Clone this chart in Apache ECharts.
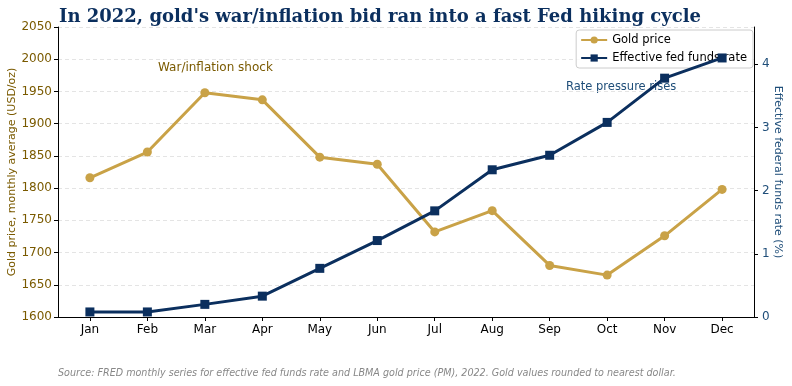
<!DOCTYPE html>
<html>
<head>
<meta charset="utf-8">
<script src="https://cdn.jsdelivr.net/npm/echarts@6/dist/echarts.min.js"></script>
<style>
  html, body { margin: 0; padding: 0; background: #fff; }
  #chart { width: 792px; height: 386px; }
</style>
</head>
<body>
<div id="chart"></div>
<script>
var months = ["Jan", "Feb", "Mar", "Apr", "May", "Jun", "Jul", "Aug", "Sep", "Oct", "Nov", "Dec"];
var goldPrice = [1816, 1856, 1948, 1937, 1848, 1837, 1732, 1765, 1680, 1665, 1726, 1798];
var fedRate = [0.08, 0.08, 0.20, 0.33, 0.77, 1.21, 1.68, 2.33, 2.56, 3.08, 3.78, 4.10];

var goldColor = "#c9a247";
var goldText = "#7a5a00";
var navy = "#0b2f5e";
var navyText = "#1f4e79";

// month index positions for a value x axis (matplotlib-like side margins)
var monthIdx = months.map(function (m, i) { return i; });
var goldData = goldPrice.map(function (v, i) { return [i, v]; });
var fedData = fedRate.map(function (v, i) { return [i, v]; });

var chart = echarts.init(document.getElementById("chart"));
var option = {
  animation: false,
  title: {
    text: "In 2022, gold's war/inflation bid ran into a fast Fed hiking cycle",
    left: 54,
    top: 3,
    textStyle: {
      fontFamily: "DejaVu Serif",
      fontWeight: "bold",
      fontSize: 18,
      color: navy
    }
  },
  legend: {
    right: 39,
    top: 30,
    orient: "vertical",
    itemWidth: 26,
    itemHeight: 9,
    itemGap: 6,
    padding: [4, 6, 4, 4],
    backgroundColor: "rgba(255,255,255,0.85)",
    borderColor: "#cccccc",
    borderWidth: 1,
    borderRadius: 3,
    textStyle: { fontFamily: "DejaVu Sans", fontSize: 11.5, color: "#000" },
    data: ["Gold price", "Effective fed funds rate"]
  },
  grid: { left: 58, right: 38, top: 27, bottom: 69, outerBoundsMode: "none", containLabel: false },
  xAxis: {
    type: "value",
    min: -0.555,
    max: 11.555,
    splitLine: { show: false },
    axisLine: { onZero: false, lineStyle: { color: "#000", width: 1 } },
    axisTick: { length: 4, lineStyle: { color: "#000" }, customValues: monthIdx },
    axisLabel: {
      fontFamily: "DejaVu Sans", fontSize: 12, color: "#000", margin: 7,
      customValues: monthIdx,
      formatter: function (v) { return months[Math.round(v)] || ""; }
    }
  },
  yAxis: [
    {
      type: "value",
      min: 1600,
      max: 2050,
      interval: 50,
      name: "Gold price, monthly average (USD/oz)",
      nameLocation: "middle",
      nameGap: 40,
      nameMoveOverlap: false,
      nameTextStyle: { fontFamily: "DejaVu Sans", fontSize: 11, color: goldText },
      axisLine: { show: true, onZero: false, lineStyle: { color: "#000" } },
      axisTick: { show: true, length: 4, lineStyle: { color: "#000" } },
      axisLabel: {
        fontFamily: "DejaVu Sans", fontSize: 12, color: goldText, margin: 6,
        formatter: function (v) { return String(v); }
      },
      splitLine: { show: true, lineStyle: { color: "#dddddd", type: [4, 3], width: 0.8 } }
    },
    {
      type: "value",
      min: 0,
      max: 4.59,
      interval: 1,
      position: "right",
      name: "Effective federal funds rate (%)",
      nameLocation: "middle",
      nameGap: 18,
      nameMoveOverlap: false,
      nameRotate: -90,
      nameTextStyle: { fontFamily: "DejaVu Sans", fontSize: 11, color: navyText },
      axisLine: { show: true, onZero: false, lineStyle: { color: "#000" } },
      axisTick: { show: true, length: 4, lineStyle: { color: "#000" }, customValues: [0, 1, 2, 3, 4] },
      axisLabel: {
        fontFamily: "DejaVu Sans", fontSize: 12, color: navyText, margin: 8,
        customValues: [0, 1, 2, 3, 4],
        formatter: function (v) { return String(Math.round(v)); }
      },
      splitLine: { show: false }
    }
  ],
  graphic: [
    {
      type: "text",
      left: 158,
      top: 62,
      style: { text: "War/inflation shock", fill: goldText, font: "12px 'DejaVu Sans'" }
    },
    {
      type: "text",
      left: 566,
      top: 81,
      style: { text: "Rate pressure rises", fill: navyText, font: "11.5px 'DejaVu Sans'" }
    },
    {
      type: "text",
      left: 58,
      top: 368,
      style: {
        text: "Source: FRED monthly series for effective fed funds rate and LBMA gold price (PM), 2022. Gold values rounded to nearest dollar.",
        fill: "#888888",
        font: "italic 9.6px 'DejaVu Sans'"
      }
    }
  ],
  series: [
    {
      name: "Gold price",
      type: "line",
      yAxisIndex: 0,
      data: goldData,
      symbol: "circle",
      symbolSize: 9,
      lineStyle: { color: goldColor, width: 3 },
      itemStyle: { color: goldColor },
      z: 3
    },
    {
      name: "Effective fed funds rate",
      type: "line",
      yAxisIndex: 1,
      data: fedData,
      symbol: "rect",
      symbolSize: 9,
      lineStyle: { color: navy, width: 3 },
      itemStyle: { color: navy },
      z: 4
    }
  ]
};
chart.setOption(option);
</script>
</body>
</html>
